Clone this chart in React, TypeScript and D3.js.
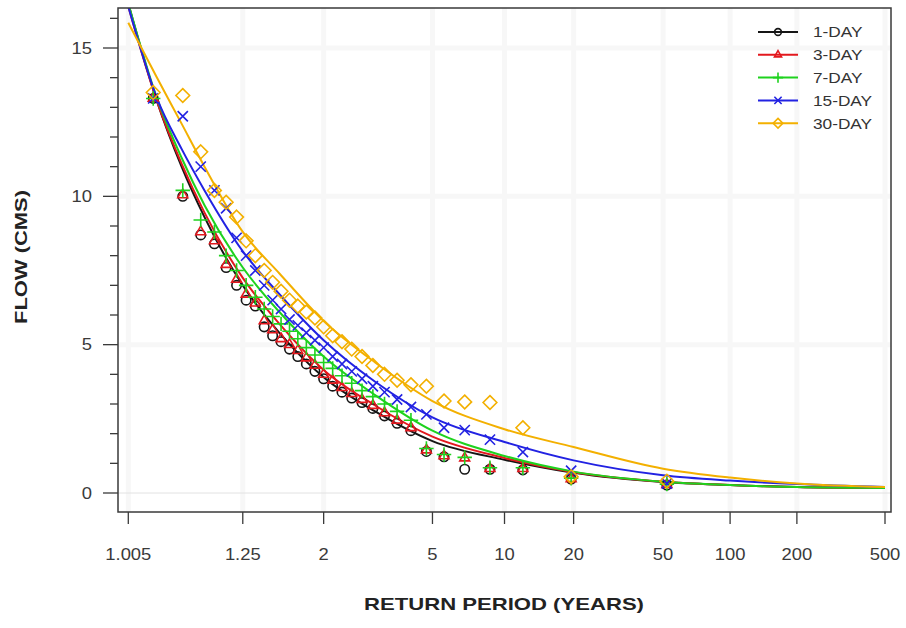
import React from "react";
import * as d3 from "d3";

const seriesNames = ["1-DAY", "3-DAY", "7-DAY", "15-DAY", "30-DAY"];
const seriesColors = ["#151515", "#e3181e", "#1ed21e", "#2222e2", "#f3b000"];
const seriesSymbols = [d3.symbolCircle, d3.symbolTriangle2, d3.symbolPlus, d3.symbolTimes, d3.symbolDiamond2];

// plotting positions (return period, years), rank 1 .. 31
const pointT = [52.0, 19.5, 12.0, 8.667, 6.783, 5.571, 4.727, 4.105, 3.627, 3.25, 2.943, 2.69, 2.476, 2.294, 2.137, 2.0,
  1.88, 1.773, 1.677, 1.592, 1.514, 1.444, 1.381, 1.322, 1.268, 1.219, 1.173, 1.13, 1.09, 1.052, 1.017];

const obs1 = [0.27, 0.47, 0.78, 0.8, 0.8, 1.22, 1.4, 2.1, 2.35, 2.6, 2.85, 3.05, 3.2, 3.4, 3.6, 3.85, 4.1, 4.35, 4.6, 4.85,
  5.1, 5.3, 5.6, 6.3, 6.5, 7.0, 7.6, 8.4, 8.7, 10.0, 13.3];
const obs3 = [0.28, 0.48, 0.82, 0.82, 1.18, 1.25, 1.45, 2.2, 2.45, 2.7, 2.95, 3.15, 3.35, 3.55, 3.8, 4.0, 4.3, 4.55, 4.8, 5.0,
  5.2, 5.5, 5.8, 6.4, 6.7, 7.2, 7.7, 8.5, 8.8, 10.05, 13.3];
const obs7 = [0.3, 0.5, 0.85, 0.85, 1.2, 1.3, 1.5, 2.45, 2.75, 3.0, 3.25, 3.45, 3.7, 3.95, 4.2, 4.4, 4.65, 4.9, 5.2, 5.45,
  5.7, 5.95, 6.2, 6.6, 7.0, 7.5, 8.0, 8.8, 9.2, 10.2, 13.3];
const obs15 = [0.32, 0.75, 1.38, 1.8, 2.12, 2.2, 2.65, 2.9, 3.15, 3.4, 3.6, 3.85, 4.1, 4.35, 4.6, 4.9, 5.15, 5.4, 5.65, 5.85,
  6.2, 6.5, 7.0, 7.5, 8.0, 8.6, 9.6, 10.2, 11.0, 12.7, 13.3];
const obs30 = [0.4, 0.55, 2.2, 3.05, 3.07, 3.1, 3.6, 3.65, 3.8, 4.0, 4.3, 4.6, 4.85, 5.1, 5.3, 5.6, 5.9, 6.1, 6.3, 6.5,
  6.8, 7.1, 7.5, 8.0, 8.5, 9.3, 9.8, 10.2, 11.5, 13.4, 13.5];

// fitted frequency curves
const curveT = [1.005, 1.02, 1.05, 1.1, 1.25, 1.5, 2, 3, 5, 10, 20, 50, 100, 200, 500];
const fit1 = [16.5, 13.2, 11.0, 9.3, 7.0, 5.4, 3.9, 2.75, 1.75, 1.12, 0.68, 0.37, 0.27, 0.2, 0.17];
const fit3 = [16.4, 13.2, 11.1, 9.45, 7.25, 5.7, 4.15, 2.95, 1.9, 1.18, 0.7, 0.38, 0.27, 0.2, 0.17];
const fit7 = [16.5, 13.3, 11.3, 9.7, 7.6, 6.1, 4.6, 3.3, 2.1, 1.25, 0.72, 0.38, 0.27, 0.2, 0.17];
const fit15 = [16.4, 13.3, 11.6, 10.2, 8.15, 6.7, 5.15, 3.75, 2.55, 1.72, 1.1, 0.6, 0.42, 0.3, 0.2];
const fit30 = [15.85, 14.0, 12.45, 11.0, 8.8, 7.4, 5.8, 4.4, 3.1, 2.15, 1.55, 0.82, 0.52, 0.32, 0.2];

const xTicks = [1.005, 1.25, 2, 5, 10, 20, 50, 100, 200, 500];
const xTickLabels = ["1.005", "1.25", "2", "5", "10", "20", "50", "100", "200", "500"];
const yMajor = [0, 5, 10, 15];
const yMinor = d3.range(0, 17);

const observed = [obs1, obs3, obs7, obs15, obs30];
const fitted = [fit1, fit3, fit7, fit15, fit30];

// Gumbel reduced variate
const gumbel = (T: number) => -Math.log(-Math.log(1 - 1 / T));

const W = 906, H = 628;
const box = { left: 118, right: 891, top: 8, bottom: 512 };
const font = "'Liberation Sans', Arial, Helvetica, sans-serif";

export default function App() {
  const x = d3.scaleLinear().domain([gumbel(1.005), gumbel(500)]).range([128.3, 885]);
  const y = d3.scaleLinear().domain([0, 15]).range([493, 48]);

  const line = d3.line<[number, number]>()
    .x(d => x(gumbel(d[0])))
    .y(d => y(d[1]))
    .curve(d3.curveMonotoneX);

  const sym = (i: number, size: number) => d3.symbol().type(seriesSymbols[i]).size(size)() || "";

  return (
    <svg width={W} height={H} style={{ position: "absolute", left: 0, top: 0, background: "#fff" }}>
      <defs>
        <clipPath id="plotclip">
          <rect x={box.left} y={box.top} width={box.right - box.left} height={box.bottom - box.top} />
        </clipPath>
      </defs>
      <rect x={0} y={0} width={W} height={H} fill="#fff" />

      {/* faint grid */}
      <g stroke="#f7f7f7" strokeWidth={5}>
        {xTicks.map(t => (
          <line key={t} x1={x(gumbel(t))} x2={x(gumbel(t))} y1={box.top} y2={box.bottom} />
        ))}
        {[5, 10, 15].map(v => (
          <line key={v} x1={box.left} x2={box.right} y1={y(v)} y2={y(v)} />
        ))}
      </g>
      <line x1={box.left} x2={box.right} y1={y(0)} y2={y(0)} stroke="#e2e2e2" strokeWidth={1} />

      {/* fitted curves */}
      <g clipPath="url(#plotclip)" fill="none">
        {fitted.map((f, i) => (
          <path key={i} d={line(curveT.map((t, j) => [t, f[j]] as [number, number])) || ""}
            stroke={seriesColors[i]} strokeWidth={2} />
        ))}
      </g>

      {/* observed points */}
      <g clipPath="url(#plotclip)" fill="none">
        {observed.map((o, i) => (
          <g key={i} stroke={seriesColors[i]} strokeWidth={1.6}>
            {o.map((v, j) => (
              <path key={j} d={sym(i, i === 4 ? 120 : 70)}
                transform={`translate(${x(gumbel(pointT[j]))},${y(v)})`} />
            ))}
          </g>
        ))}
      </g>

      {/* frame */}
      <rect x={box.left} y={box.top} width={box.right - box.left} height={box.bottom - box.top}
        fill="none" stroke="#3a3a3a" strokeWidth={1.5} />

      {/* y axis */}
      <g stroke="#3a3a3a" strokeWidth={1.3}>
        {yMinor.map(v => (
          <line key={v} x1={yMajor.includes(v) ? box.left - 15 : box.left - 8} x2={box.left} y1={y(v)} y2={y(v)} />
        ))}
      </g>
      <g fontFamily={font} fontSize={16} fill="#3a3a3a">
        {yMajor.map(v => (
          <text key={v} transform={`translate(92,${y(v)}) scale(1.15,1)`} textAnchor="end" dy="0.36em">{v}</text>
        ))}
      </g>

      {/* x axis */}
      <g stroke="#3a3a3a" strokeWidth={1.3}>
        {xTicks.map(t => (
          <line key={t} x1={x(gumbel(t))} x2={x(gumbel(t))} y1={box.bottom} y2={box.bottom + 12} />
        ))}
      </g>
      <g fontFamily={font} fontSize={16} fill="#3a3a3a">
        {xTicks.map((t, i) => (
          <text key={t} transform={`translate(${x(gumbel(t))},560) scale(1.15,1)`} textAnchor="middle">{xTickLabels[i]}</text>
        ))}
      </g>

      {/* axis titles */}
      <text x={504} y={610} textAnchor="middle" fontFamily={font} fontWeight="bold" fontSize={17}
        fill="#222" textLength={280} lengthAdjust="spacingAndGlyphs">RETURN PERIOD (YEARS)</text>
      <text transform="translate(27,257) rotate(-90)" textAnchor="middle" fontFamily={font} fontWeight="bold"
        fontSize={17} fill="#222" textLength={134} lengthAdjust="spacingAndGlyphs">FLOW (CMS)</text>

      {/* legend */}
      <g>
        {seriesNames.map((name, i) => {
          const ly = 32 + i * 22.8;
          return (
            <g key={name}>
              <line x1={758} x2={798} y1={ly} y2={ly} stroke={seriesColors[i]} strokeWidth={2} />
              <path d={sym(i, i === 4 ? 60 : 36)} transform={`translate(778,${ly})`} fill="none"
                stroke={seriesColors[i]} strokeWidth={1.6} />
              <text transform={`translate(813,${ly}) scale(1.15,1)`} dy="0.36em" fontFamily={font}
                fontSize={15} fill="#333">{name}</text>
            </g>
          );
        })}
      </g>
    </svg>
  );
}
